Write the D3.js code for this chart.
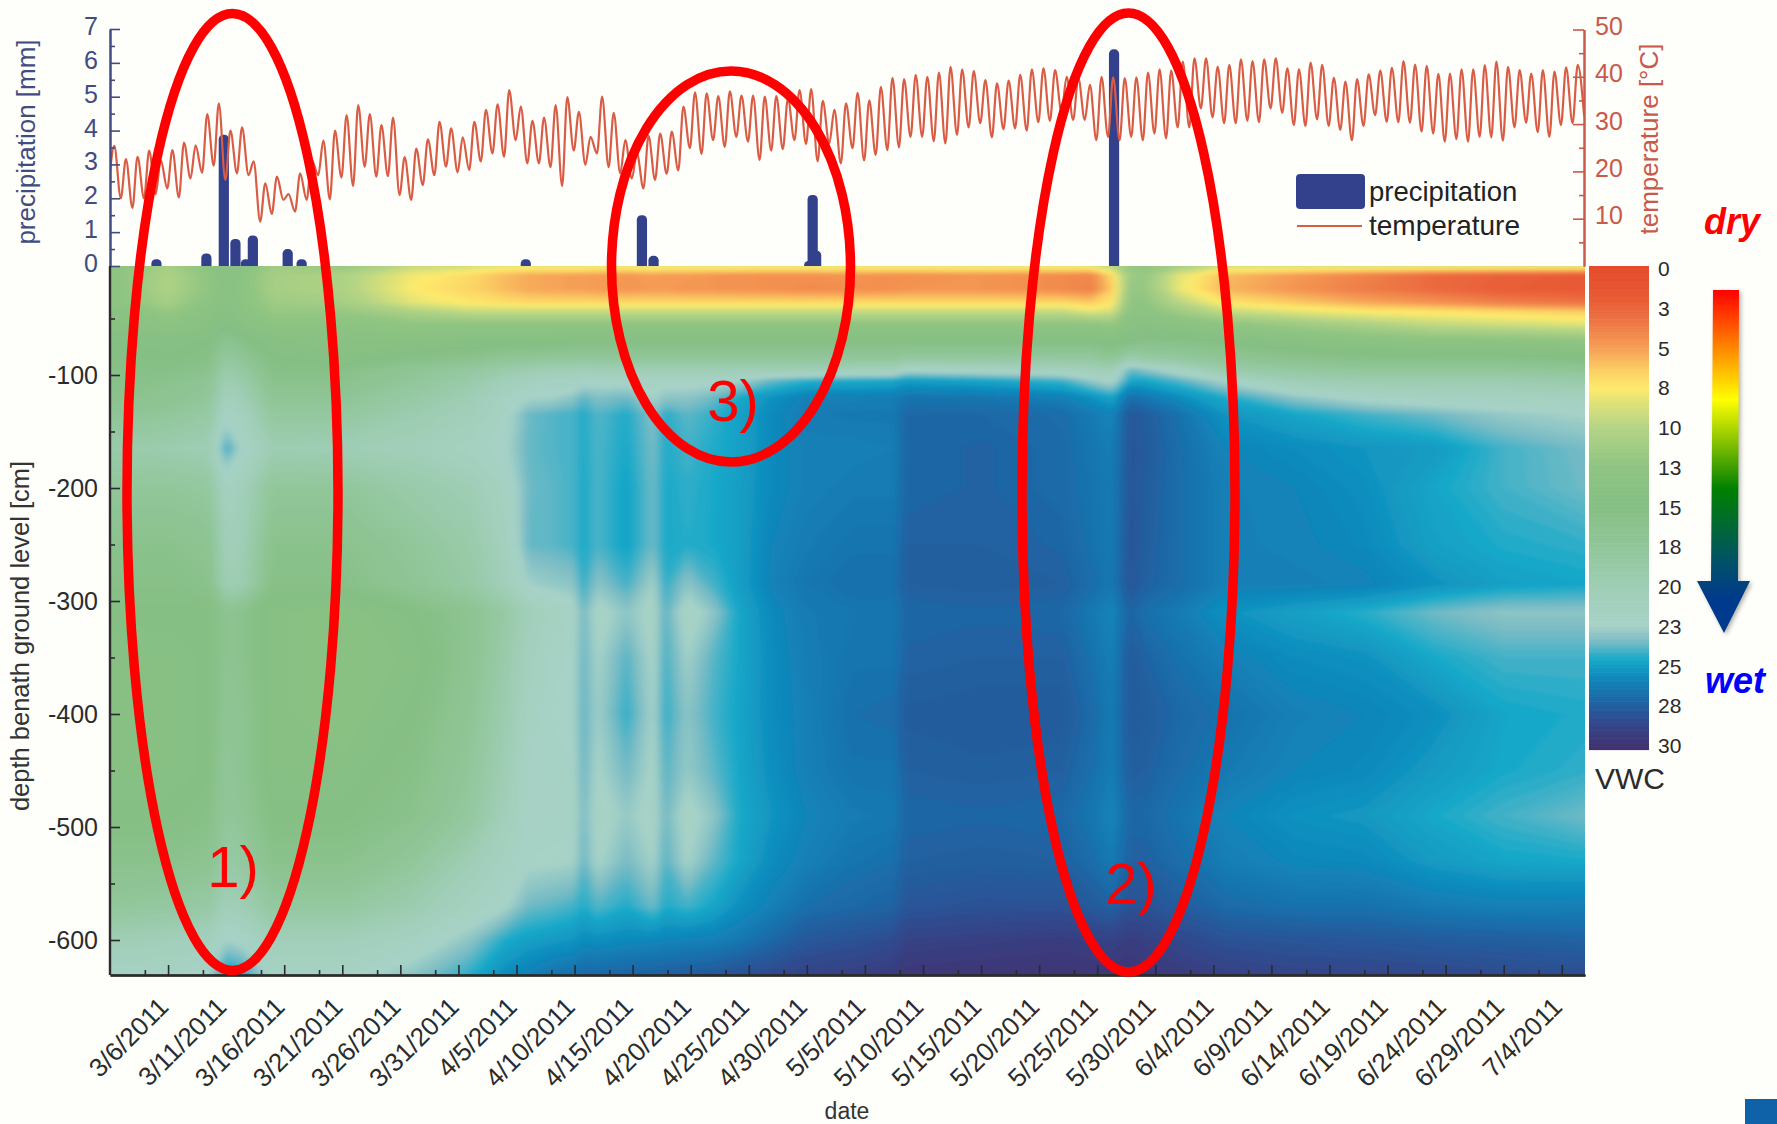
<!DOCTYPE html>
<html>
<head>
<meta charset="utf-8">
<title>VWC</title>
<style>
  html, body { margin: 0; padding: 0; background: #fefefb; }
  svg { display: block; }
  text { font-family: "Liberation Sans", Arial, sans-serif; }
</style>
</head>
<body>
<div id="chart"></div>
<script src="https://cdnjs.cloudflare.com/ajax/libs/d3/7.8.5/d3.min.js"></script>
<script>
// x axis labels
var dateLabels = ["3/6/2011","3/11/2011","3/16/2011","3/21/2011","3/26/2011","3/31/2011","4/5/2011","4/10/2011",
  "4/15/2011","4/20/2011","4/25/2011","4/30/2011","5/5/2011","5/10/2011","5/15/2011","5/20/2011","5/25/2011",
  "5/30/2011","6/4/2011","6/9/2011","6/14/2011","6/19/2011","6/24/2011","6/29/2011","7/4/2011"];

// precipitation [mm], days counted from 3/1/2011
var rainDays = [4.0, 8.3, 9.8, 10.8, 11.7, 12.3, 15.3, 16.5, 35.8, 45.8, 46.8, 60.2, 60.5, 60.8, 86.45];
var rainMm = [0.2, 0.37, 3.88, 0.8, 0.2, 0.9, 0.5, 0.2, 0.2, 1.5, 0.3, 0.15, 2.1, 0.45, 6.4];

// daily temperature extremes [deg C], one per day from 3/1/2011
var tempStart = 20;
var tempHigh = [25.4,22.6,23.1,24.4,22.4,24.5,26.1,25.5,32.1,34.4,28.6,29.3,22.1,17.5,18.9,15.2,19.6,22.4,26.5,28.6,
  31.9,34.0,32.1,29.8,31.4,23.0,24.8,26.8,30.5,29.1,27.2,30.5,33.0,
  34.2,37.2,33.7,30.7,31.4,34.0,35.7,32.6,27.3,35.8,32.4,26.6,23.8,27.5,28.0,28.4,33.7,36.7,36.5,35.9,36.9,36.0,36.0,
  35.8,35.9,35.4,37.2,37.4,34.9,33.0,34.4,
  36.6,35.0,37.9,39.8,39.5,40.4,40.0,40.9,42.1,41.6,41.2,39.3,38.6,39.2,40.4,41.6,41.8,41.4,40.0,39.8,38.3,40.0,39.9,
  39.7,39.9,40.9,41.6,41.3,43.2,43.9,43.9,42.1,
  42.5,43.7,43.3,43.7,43.9,41.8,41.6,43.0,42.5,39.8,39.0,39.5,40.5,41.3,41.9,43.3,42.6,42.3,40.6,40.7,41.6,41.6,42.5,
  43.2,42.1,41.4,40.7,41.4,41.1,42.0,42.5];
var tempLow = [14.3,12.3,14.3,15.2,16.4,14.5,18.5,19.7,21.2,18.2,19.6,19.2,9.4,11.0,14.0,11.5,14.0,19.2,14.1,18.7,
  16.9,21.0,18.9,19.0,15.0,14.0,17.1,19.2,21.0,19.8,20.3,22.1,
  23.8,23.1,26.6,21.7,21.7,20.9,16.9,24.4,21.4,23.8,20.9,19.6,18.5,16.4,18.2,19.5,20.2,24.9,23.7,26.6,25.2,27.3,26.3,
  22.4,24.4,24.7,26.6,25.8,22.1,25.9,21.7,
  24.9,22.3,23.5,24.5,25.1,27.3,27.3,26.4,25.9,27.7,29.3,30.2,27.2,28.9,29.1,28.6,30.4,30.7,32.6,30.9,30.9,26.6,27.3,
  26.6,27.3,26.6,28.0,27.0,29.3,29.3,33.3,31.4,
  30.2,30.2,30.7,30.4,33.3,32.4,29.8,29.6,31.0,29.6,28.8,26.6,29.6,31.9,30.5,30.4,30.3,28.4,28.0,26.3,26.8,26.3,27.3,
  27.2,26.5,29.3,30.3,28.3,27.3,29.8,30.2,31.6];

// VWC grid: gridDays are the columns (days from 3/1/2011), gridDepths the rows [cm below ground]
var gridDepths = [3,12,24,36,44,55,70,85,95,105,120,135,165,200,250,285,310,350,400,450,490,530,570,600,631];
var gridDays = [0,5,8.5,10,11.5,14,20,26,31,34,36,38,40,40.7,42,44.5,46.8,47.8,49.7,52,54,57,60,64,67.5,68.5,75,82,
  84.5,86.3,87.8,89,92,96,102,108,114,120,127];
var vwcColumns = [
  [13,13,13,13,14,14,15,15,15.5,15.5,16,17,19,17.5,16,15.5,15,14.5,14.5,14.5,15,16,17.5,20,22],
  [11,10.5,10.5,11,12,13,14.5,15,15.5,16,16.5,17.5,19.5,17.5,16,15.5,15,14.5,14.5,14.5,15,16,18,20.5,22],
  [13,12.5,12.5,13,13.5,14,15,15.5,16,17,17.5,18.5,20,18,16.5,16,15,15,15,15,15.5,16.5,18.5,21,22.5],
  [14,14,14,14,14.5,15,16.5,18,19,20,21,22,24.2,21.5,20.5,20,16.5,16.5,17,17.5,17.5,18.5,20.5,22.5,25],
  [13.5,13,13,13,13.5,14,15.5,17,18,19,20,21,22,20.5,20,19.5,16,16,16.5,16.5,17,18,20,22,24.5],
  [11.5,11,11,11.5,12,13,14.5,15,15.5,16,17,18,19.8,17.5,16,15.5,14.5,14.5,14.5,14.5,15,16,18,20.5,22],
  [12,10.5,10.5,11,12,13,14,14.5,15.5,16,17,18,20,17.5,16,15.5,14,14,14,14.5,15,16,18,20.5,22],
  [9.5,8,7.7,8.5,10.5,12.5,14,15.5,17,17.5,18.5,19.5,20.5,19,17.5,17,15,14.5,15,15.5,16,17.5,19.5,21.5,23],
  [9,7,6.8,7.5,9.5,12.5,14.5,16,18,19,20,20.5,21.5,20,19,18.5,16.5,16.5,17,17.5,18,20,21.5,23,24.3],
  [8.5,6,6,7.2,9.5,12.5,14.5,17,19,20.5,21.5,22,22.3,21.5,21,20.5,18.5,19,19.5,20,20.5,21.5,22.3,24.4,25.5],
  [8.5,5.5,5.5,7,9.5,12.5,14.5,17,19.5,21,22.4,23.5,23.6,23.5,23.6,22.5,20.5,21,21.5,22,22,22.2,23.5,24.8,26],
  [8.5,5.3,5.3,7,9.5,12.5,14.5,17.5,20,21.5,22.5,23.8,23.8,23.7,23.7,22.8,21.5,22,22.2,22.1,22,22.3,23.7,25,26.5],
  [8.5,5.2,5.2,7,9.5,12.5,15,17.5,20,21.5,23,24,24,24,24,23,22,22.3,22.4,22.2,22,22.4,24,25.2,26.7],
  [8.5,5.2,5.2,7,9.5,12.5,15,17.5,20.5,22,23.7,24.4,24.4,24.5,24.5,24.2,23.5,23.6,23.7,23.6,23.4,23.6,24.4,25.5,27],
  [8.5,5,5,7,9.5,12.5,15,17.5,20,22,23.2,23.8,23.9,23.9,23.9,23,22,22.4,22.6,22.3,22,22.3,23.8,25.4,27],
  [8.5,4.8,4.8,7,9.5,12.5,15,17.5,20,22,23.5,24.4,24.5,24.7,24.7,24,23,23.8,24.2,23.5,22.8,23.4,24.4,25.6,27.2],
  [8.5,5.2,5,7,9.5,12.5,15,17.5,20,22,22.4,23.2,23.4,23.5,23.5,22.5,22,22.2,22.4,22.2,22,22.4,23.5,25.7,27.3],
  [8.5,5,5,7,9.5,12.5,15,17.5,20,22,23,24.3,24.4,24.5,24.5,24.2,23.8,24,24.2,23.8,23.5,23.8,24.4,25.8,27.4],
  [8.5,5,4.8,7,9.5,12.5,15,17.5,20,22,23,23.7,24,24.2,24.3,23,21.8,22.5,23,22.8,22,22.4,24,25.9,27.5],
  [8.5,4.8,4.8,7,9.5,12.5,15,17.5,20,22,23.5,24.2,24.4,24.5,24.5,24,23,23.8,24,23.7,23,23.7,24.6,26,27.7],
  [8.5,4.7,4.7,7,9.5,12.5,15,17.5,20,22.4,24.4,24.7,24.7,24.8,24.8,24.8,24.5,24.5,24.6,24.5,24.4,24.5,25.3,26.3,28],
  [8.5,4.6,4.6,7,9.5,12.5,15,17.5,20,23.6,25.3,25.6,25.6,25.6,25.8,25.9,25.6,25.5,25.5,25.4,25.2,25.5,26,27,28.4],
  [8.5,4.6,4.4,7,9.5,12.5,15,17.5,20,24.2,26,26.2,26,26,26.2,26.4,26.2,26.1,26,26,25.8,26,26.7,27.7,28.8],
  [8.5,4.8,4.5,7,9.5,12.5,15,17.5,20.5,24.4,26,26.3,26,26.2,26.5,26.7,26.4,26.5,26.7,26.5,26.2,26.5,27,28,29],
  [8.5,4.6,4.6,7,9.5,12.5,15,17.5,20.5,24.5,26.1,26.3,26.1,26.2,26.5,26.7,26.4,26.5,26.8,26.5,26.3,26.7,27.2,28.3,29.3],
  [8.5,4.6,4.8,7,9.5,12.5,15,18,22,24.9,26.5,27,27,27,27.3,27.3,27,27.2,27.5,27.3,27,27.3,27.8,28.8,29.6],
  [8.5,4.8,4.8,7,9.5,12.5,15,18,21.5,24.6,26.4,27,27.2,27.2,27.3,27.4,27.1,27.3,27.6,27.4,27.1,27.4,28,29,29.7],
  [8.5,4.4,4.4,7,9.5,12.5,15,18,21,24,26,26.8,26.9,26.9,27.1,27.3,27,27.3,27.6,27.3,27,27.3,28,29.2,29.8],
  [8.5,4.2,4,6.5,8.5,12.5,15,18,20.5,22.8,25.3,26.2,26.4,26.5,26.6,26.8,26.3,26.6,26.9,26.7,26.4,26.8,27.6,29,29.7],
  [10,7,6.5,7.5,9,12,14.5,17,20,22,24.6,25.8,26.1,26.2,26.2,26.3,25.8,26,26.2,26.1,25.8,26.2,27.2,28.8,29.6],
  [12,11.5,12,12.5,13,13.5,15,19.5,23.5,24.6,26.7,27.7,27.8,27.8,27.9,27.8,27.2,27.6,27.6,27.4,27,27.3,28,29.2,29.7],
  [12.5,12,12,12.5,13,14,15.5,18.5,23,24.6,26.4,27.5,27.6,27.5,27.4,27.3,26.7,27.2,27.5,27.3,27,27.3,28,29,29.5],
  [11,8.5,8.3,10,11.5,13.5,15.5,18,21.5,23.8,25.5,26.6,26.8,26.8,26.8,26.8,26.2,26.6,27,26.8,26.5,26.8,27.5,28.5,29.3],
  [9,6,5.8,7.5,9.5,12.5,15,17,19,22.3,24.4,25.2,25.8,26,26,26,25.3,26,26.6,26.3,25.8,26.1,26.9,28,28.9],
  [9,5,4.8,6.5,8.5,11.5,14,16,18,20,23,24.6,25.5,25.8,25.9,26,24.8,25.5,26,25.8,25.3,25.7,26.6,27.8,28.7],
  [9,4,3.8,5.5,7.7,10.5,13.5,15.5,17.5,19.5,22,24,25.2,25.4,25.6,25.9,24.3,25.3,25.8,25.6,25.1,25.6,26.6,27.7,28.6],
  [9,3,3,4.8,7.4,9.5,13,15.5,17.5,19.5,21.5,23.5,25,24.6,24.8,25.3,23.5,24.5,25.4,25,24.5,25,26.2,27.5,28.5],
  [9,2.5,2.3,4,7,9,13,15.5,17.5,19.5,21.5,22.8,24,24,24.4,24.8,23,24,24.6,24.5,24,24.6,26,27.4,28.3],
  [9,2,2,3.5,6.5,8.5,12.5,15,17,19,21,22.4,23.4,23.5,24.2,24.6,23,24,24.4,24.2,23.5,24.5,26,27.2,28.2]
];

// colour bar
var vwcStops = [0,2,3,5,6.5,7.6,8.6,10,12.5,15,18,20.5,22.3,23.3,24.4,25.5,26.5,27.5,28.5,30];
var vwcColors = ["#e54b2d","#e85a34","#eb6b40","#f59c55","#fbcf64","#fdea6c","#dbe179","#b4d485","#8ec482","#86bf84",
  "#94c8a0","#a2cfbb","#a7d2c7","#7abcc5","#18a9c9","#0f8abc","#1872ad","#255a9c","#33468a","#43306f"];
var cbarValues = [0,2.5,5,7.5,10,12.5,15,17.5,20,22.5,25,27.5,30];
var cbarLabels = ["0","3","5","8","10","13","15","18","20","23","25","28","30"];

var W = 1777, H = 1124;
var left = 110, right = 1585, top0 = 266, bottom = 975;
var navy = "#414c80", brick = "#c9594a", dark = "#2b2b2b";
var day0 = Date.UTC(2011, 2, 1);
function dayToDate(d) { return new Date(day0 + d * 864e5); }

var svg = d3.select("#chart").append("svg").attr("width", W).attr("height", H);
var defs = svg.append("defs");
defs.append("clipPath").attr("id", "plotClip").append("rect")
    .attr("x", left).attr("y", top0).attr("width", right - left).attr("height", bottom - top0);
defs.append("clipPath").attr("id", "topClip").append("rect")
    .attr("x", left).attr("y", 0).attr("width", right - left).attr("height", top0);
// the source image is soft, more so along the time axis
defs.append("filter").attr("id", "soften").attr("filterUnits", "userSpaceOnUse")
    .attr("x", left - 60).attr("y", top0 - 60).attr("width", right - left + 120).attr("height", bottom - top0 + 120)
    .append("feGaussianBlur").attr("stdDeviation", "3.5 1.6");

svg.append("rect").attr("width", W).attr("height", H).attr("fill", "#fefefb");

var x = d3.scaleUtc().domain([dayToDate(0), dayToDate(127)]).range([left, right]);
var rainY = d3.scaleLinear().domain([0, 7]).range([top0, 29]);
var tempY = d3.scaleLinear().domain([0, 50]).range([top0, 29.5]);
var depthY = d3.scaleLinear().domain([0, -600]).range([262, 940]);
var vwcColor = d3.scaleLinear().domain(vwcStops).range(vwcColors).interpolate(d3.interpolateRgb).clamp(true);

// precipitation bars, they run a bit below zero so only the top corners look round
var barW = x(dayToDate(0.88)) - x(dayToDate(0));
svg.append("g").selectAll("rect")
    .data(rainDays)
    .enter().append("rect")
    .attr("x", (d) => x(dayToDate(d)) - barW / 2)
    .attr("y", (d, i) => rainY(rainMm[i]))
    .attr("width", barW)
    .attr("height", (d, i) => top0 - rainY(rainMm[i]) + 8)
    .attr("rx", 4.5)
    .attr("fill", "#33418c");

// temperature line
var tempPoints = [[0, tempStart]];
tempHigh.forEach((t, i) => {
    tempPoints.push([i + 0.37, t]);
    tempPoints.push([i + 0.93, tempLow[i]]);
});
var tempLine = d3.line()
    .x((d) => x(dayToDate(d[0])))
    .y((d) => tempY(d[1]))
    .curve(d3.curveMonotoneX);
svg.append("path")
    .attr("clip-path", "url(#topClip)")
    .attr("d", tempLine(tempPoints))
    .attr("fill", "none")
    .attr("stroke", "#d95c45")
    .attr("stroke-width", 2.2);

// heat map: filled contour levels of the VWC grid
var nCols = gridDays.length, nRows = gridDepths.length;
var flat = [];
for (var r = 0; r < nRows; r++) {
    for (var c = 0; c < nCols; c++) flat.push(vwcColumns[c][r]);
}
// the outer half cell runs past the plot edge so the blur has something to work with
var colToDay = d3.scaleLinear()
    .domain([0].concat(gridDays.map((d, i) => i + 0.5), [nCols]))
    .range([gridDays[0] - 6].concat(gridDays, [gridDays[nCols - 1] + 6]));
var rowToDepth = d3.scaleLinear()
    .domain([0].concat(gridDepths.map((d, i) => i + 0.5), [nRows]))
    .range([-20].concat(gridDepths, [660]));
var gridPath = d3.geoPath(d3.geoTransform({
    point: function(px, py) {
        this.stream.point(x(dayToDate(colToDay(px))), depthY(-rowToDepth(py)));
    }
}));
var levels = d3.range(0, 30.01, 0.15);
var contours = d3.contours().size([nCols, nRows]).thresholds(levels)(flat);
var heat = svg.append("g").attr("clip-path", "url(#plotClip)").append("g").attr("filter", "url(#soften)");
heat.selectAll("path")
    .data(contours)
    .enter().append("path")
    .attr("d", gridPath)
    .attr("fill", (d) => vwcColor(d.value));

// axes
function styleAxis(g, color, size) {
    g.selectAll("line").attr("stroke", color).attr("stroke-width", 1.6);
    g.selectAll("path").attr("stroke", color).attr("stroke-width", 2);
    g.selectAll("text").attr("fill", color).attr("font-size", size)
     .attr("font-family", "'Liberation Sans', Arial, sans-serif");
}

var rainAxis = svg.append("g").attr("transform", "translate(" + left + ",0)")
    .call(d3.axisLeft(rainY).tickValues(d3.range(0, 8)).tickSizeInner(-10).tickSizeOuter(0).tickPadding(12).tickFormat(d3.format("d")));
styleAxis(rainAxis, navy, 25);
rainAxis.selectAll("text").attr("dy", "0.22em");
var rainMinor = svg.append("g").attr("transform", "translate(" + left + ",0)")
    .call(d3.axisLeft(rainY).tickValues(d3.range(0.5, 7, 1)).tickSizeInner(-5).tickSizeOuter(0).tickFormat(""));
styleAxis(rainMinor, navy, 25);

var tempAxis = svg.append("g").attr("transform", "translate(" + (right - 1) + ",0)")
    .call(d3.axisRight(tempY).tickValues([10, 20, 30, 40, 50]).tickSizeInner(-11).tickSizeOuter(0).tickPadding(11));
styleAxis(tempAxis, brick, 25);
tempAxis.selectAll("text").attr("dy", "0.2em");
var tempMinor = svg.append("g").attr("transform", "translate(" + (right - 1) + ",0)")
    .call(d3.axisRight(tempY).tickValues([5, 15, 25, 35, 45]).tickSizeInner(-5).tickSizeOuter(0).tickFormat(""));
styleAxis(tempMinor, brick, 25);

var depthAxis = svg.append("g").attr("transform", "translate(" + left + ",0)")
    .call(d3.axisLeft(depthY).tickValues([-100, -200, -300, -400, -500, -600]).tickSizeInner(-10).tickSizeOuter(0).tickPadding(12).tickFormat(d3.format("d")));
styleAxis(depthAxis, dark, 25);
depthAxis.select(".domain").remove();
depthAxis.selectAll("text").text((d) => "-" + Math.abs(d));
var depthMinor = svg.append("g").attr("transform", "translate(" + left + ",0)")
    .call(d3.axisLeft(depthY).tickValues(d3.range(-50, -600, -100)).tickSizeInner(-5).tickSizeOuter(0).tickFormat(""));
styleAxis(depthMinor, dark, 25);
depthMinor.select(".domain").remove();
svg.append("line").attr("x1", left).attr("x2", left).attr("y1", top0).attr("y2", bottom)
    .attr("stroke", dark).attr("stroke-width", 2.4);

var parseDate = d3.utcParse("%m/%d/%Y");
var majorDates = dateLabels.map(parseDate);
var minorDates = majorDates.map((d) => new Date(+d - 2 * 864e5));
var dateAxis = svg.append("g").attr("transform", "translate(0," + bottom + ")")
    .call(d3.axisBottom(x).tickValues(majorDates).tickSizeInner(-10).tickSizeOuter(0).tickFormat(d3.utcFormat("%-m/%-d/%Y")));
styleAxis(dateAxis, dark, 26);
dateAxis.selectAll("text")
    .attr("x", 0).attr("y", 0).attr("dy", "0.35em")
    .attr("text-anchor", "end")
    .attr("transform", "translate(-5,27) rotate(-45)");
var dateMinor = svg.append("g").attr("transform", "translate(0," + bottom + ")")
    .call(d3.axisBottom(x).tickValues(minorDates).tickSizeInner(-5).tickSizeOuter(0).tickFormat(""));
styleAxis(dateMinor, dark, 26);
dateAxis.select(".domain").attr("stroke-width", 2.6);

// axis titles
function addText(px, py, str, size, color, rotate, anchor) {
    var t = svg.append("text").attr("x", px).attr("y", py).attr("font-size", size).attr("fill", color)
        .attr("text-anchor", anchor || "middle").text(str);
    if (rotate) t.attr("transform", "rotate(" + rotate + "," + px + "," + py + ")");
    return t;
}
addText(35, 142, "precipitation [mm]", 26, navy, -90);
addText(1658, 139, "temperature [\u00b0C]", 26, brick, -90);
addText(29, 636, "depth benath ground level [cm]", 25.5, "#333", -90);
addText(847, 1119, "date", 23, "#333");

// legend
svg.append("rect").attr("x", 1296).attr("y", 174).attr("width", 69).attr("height", 35).attr("rx", 4).attr("fill", "#33418c");
svg.append("line").attr("x1", 1297).attr("x2", 1362).attr("y1", 226).attr("y2", 226).attr("stroke", "#d95c45").attr("stroke-width", 2.2);
addText(1369, 201, "precipitation", 27.5, "#222", 0, "start");
addText(1369, 235, "temperature", 28, "#222", 0, "start");

// colour bar
var cbarY = d3.scaleLinear().domain([0, 30]).range([266, 749.5]);
var cbarLabelY = d3.scaleLinear().domain([0, 30]).range([269, 746]);
svg.append("g").selectAll("rect")
    .data(d3.range(0, 30, 0.1))
    .enter().append("rect")
    .attr("x", 1589).attr("width", 60)
    .attr("y", (d) => cbarY(d))
    .attr("height", (d) => cbarY(d + 0.1) - cbarY(d) + 0.6)
    .attr("fill", (d) => vwcColor(d + 0.05));
var cbarAxis = svg.append("g").attr("transform", "translate(1649,0)")
    .call(d3.axisRight(cbarLabelY).tickValues(cbarValues).tickSize(0).tickPadding(9)
        .tickFormat((d, i) => cbarLabels[i]));
cbarAxis.select(".domain").remove();
cbarAxis.selectAll("text").attr("fill", "#2b2b2b").attr("font-size", 21)
    .attr("font-family", "'Liberation Sans', Arial, sans-serif");
addText(1595, 789, "VWC", 30, "#2b2b2b", 0, "start");

// dry / wet arrow
var arrowGrad = defs.append("linearGradient").attr("id", "arrowGrad").attr("x1", 0).attr("x2", 0).attr("y1", 0).attr("y2", 1);
[[0, "#ff0000"], [0.32, "#ffff00"], [0.58, "#008000"], [0.8, "#00506a"], [0.9, "#003a8c"], [1, "#003a8c"]].forEach((s) => {
    arrowGrad.append("stop").attr("offset", s[0]).attr("stop-color", s[1]);
});
svg.append("path")
    .attr("d", "M1713,290H1739L1738,581H1750L1724,633L1697,581H1711Z")
    .attr("fill", "url(#arrowGrad)")
    .style("filter", "drop-shadow(2px 2px 2px rgba(0,0,0,0.3))");
addText(1732, 234, "dry", 36, "#ff0000").attr("font-weight", "bold").attr("font-style", "italic");
addText(1735, 693, "wet", 36, "#0000ff").attr("font-weight", "bold").attr("font-style", "italic");

// red annotations drawn over the chart
var markers = svg.append("g").attr("fill", "none").attr("stroke", "#ff0000").attr("stroke-width", 9.5);
markers.append("ellipse").attr("cx", 232.5).attr("cy", 492).attr("rx", 105.5).attr("ry", 478.5);
markers.append("ellipse").attr("cx", 1128.5).attr("cy", 492.5).attr("rx", 106.5).attr("ry", 479.5);
markers.append("ellipse").attr("cx", 731).attr("cy", 266.5).attr("rx", 119.5).attr("ry", 195.5);
addText(233, 887, "1)", 58, "#ff0000");
addText(1131, 904, "2)", 58, "#ff0000");
addText(733, 421, "3)", 58, "#ff0000");

// blue corner left over from the slide
svg.append("rect").attr("x", 1745).attr("y", 1099).attr("width", 32).attr("height", 25).attr("fill", "#0f62a8");
</script>
</body>
</html>
